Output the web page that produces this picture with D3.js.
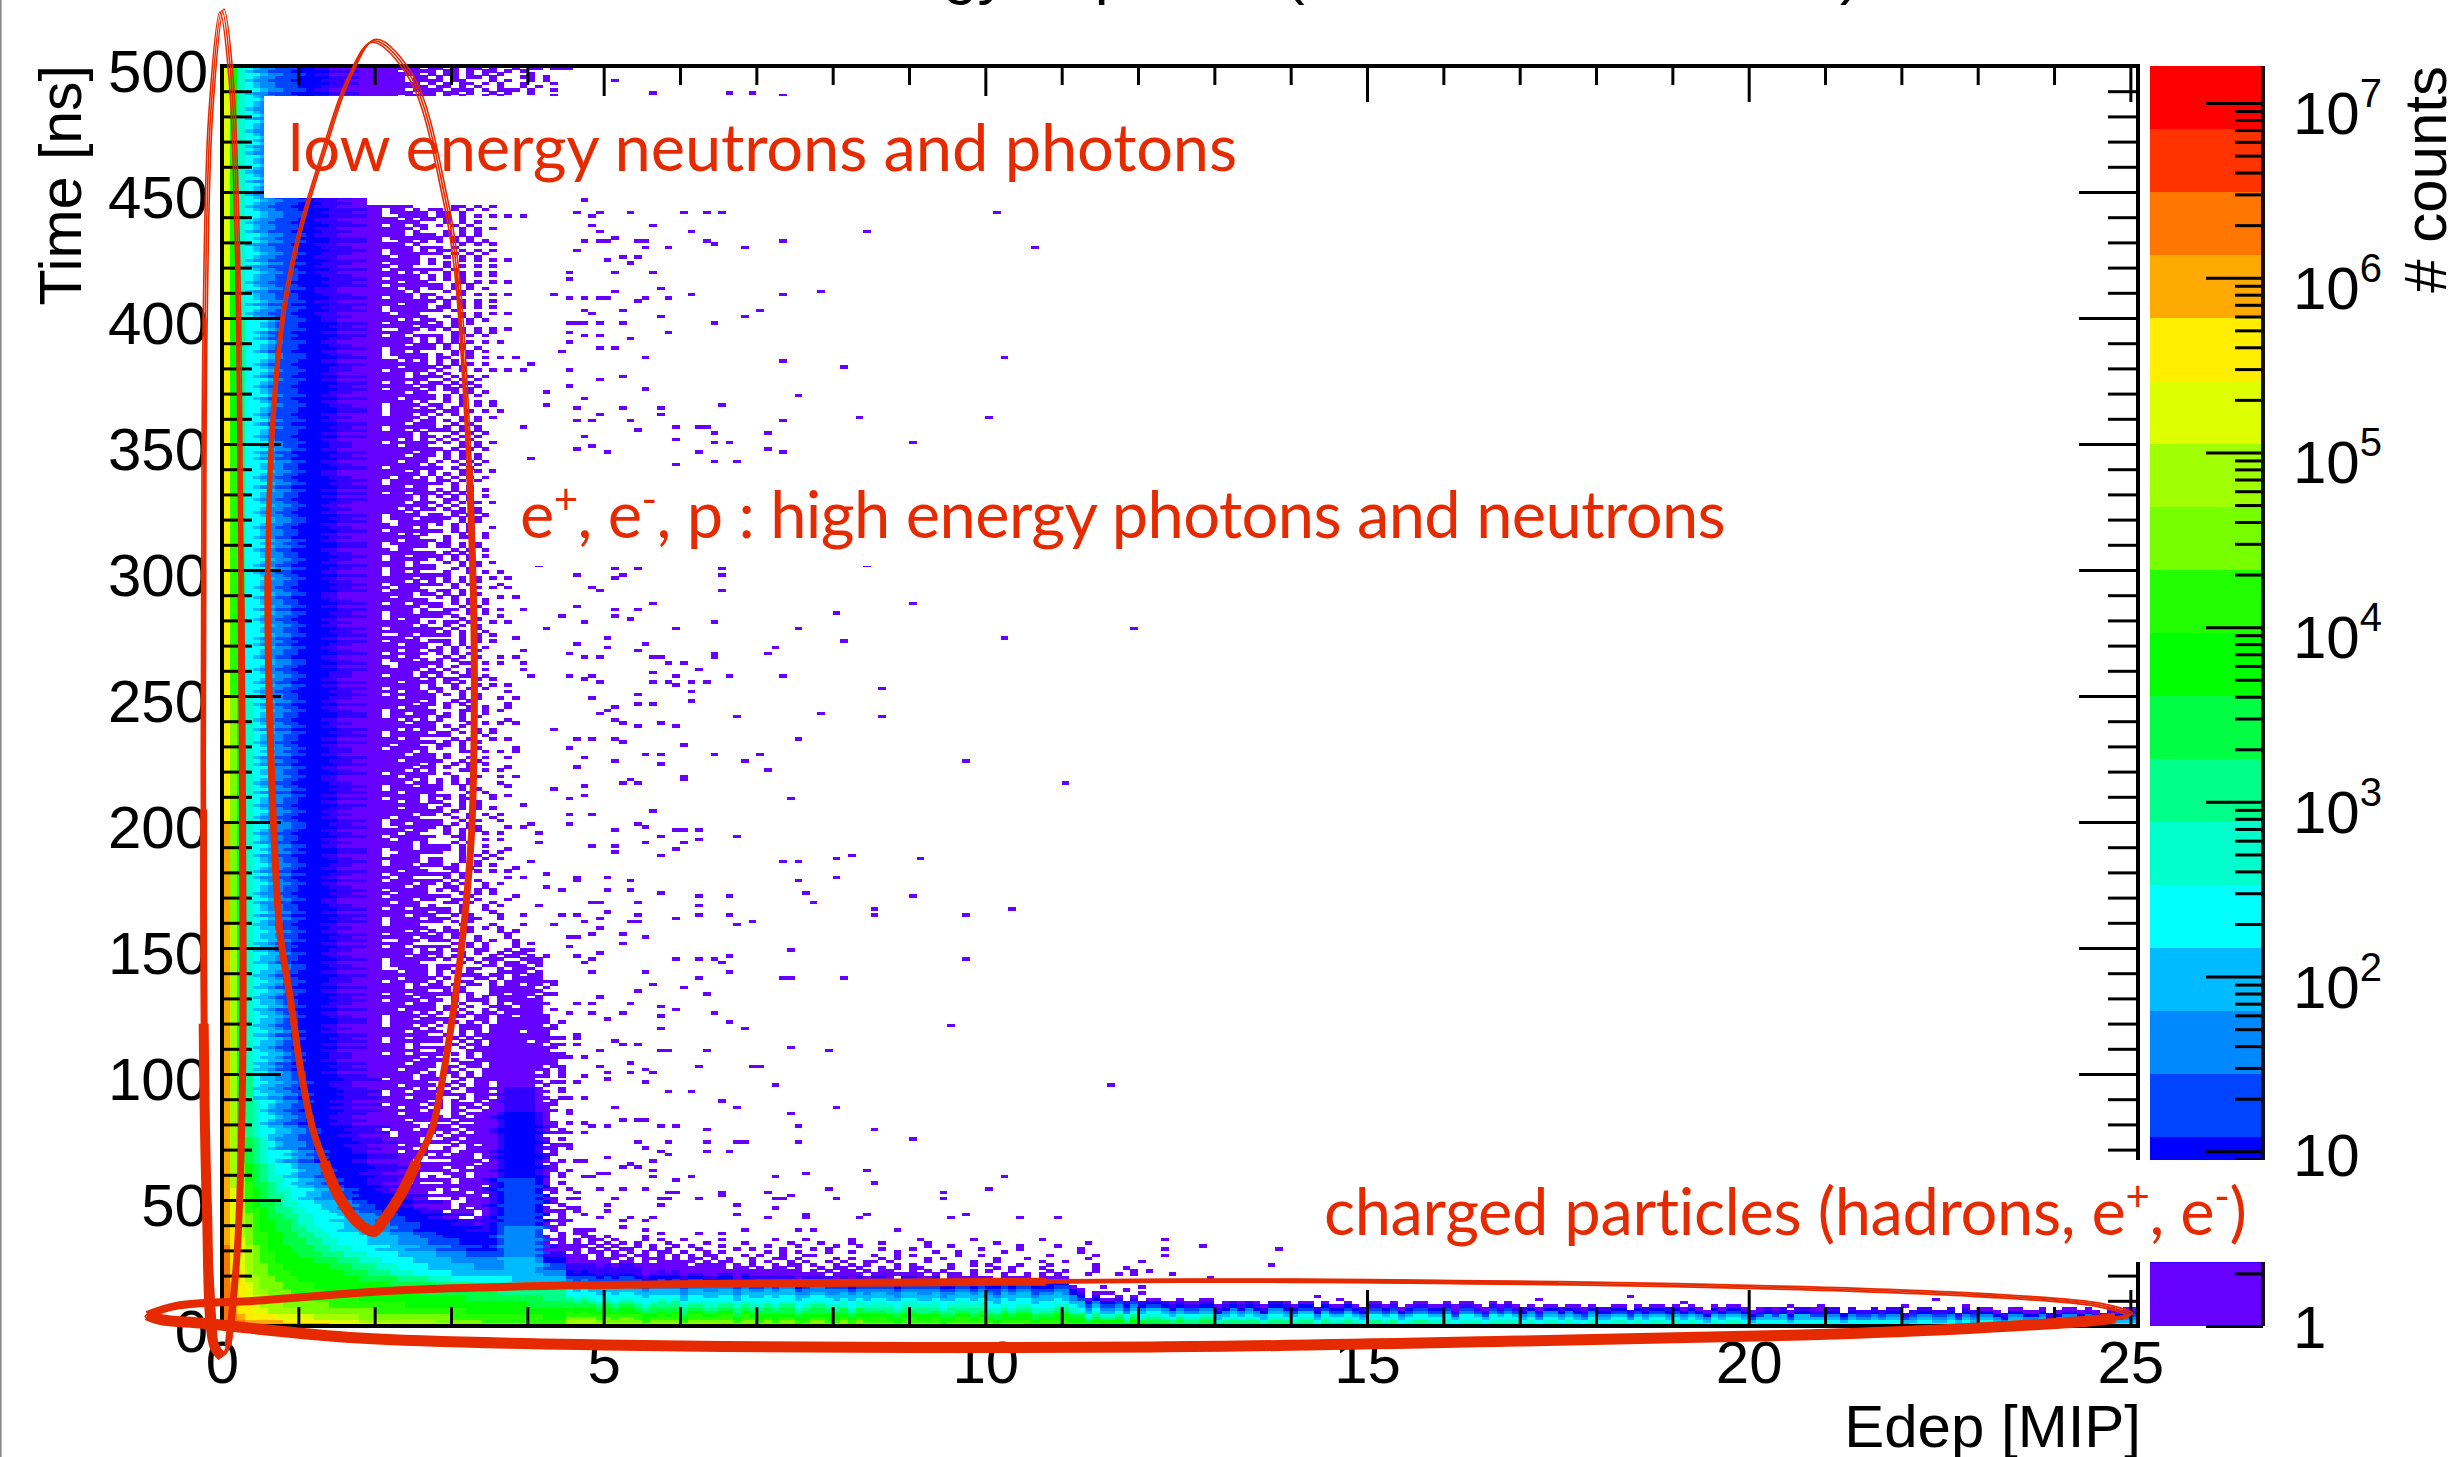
<!DOCTYPE html>
<html><head><meta charset="utf-8">
<script src="https://cdn.jsdelivr.net/npm/d3@7"></script>
<style>html,body{margin:0;padding:0;background:#fff;overflow:hidden}text{font-family:"Liberation Sans",Arial,sans-serif;fill:#000}.note{font-family:Lato,sans-serif;fill:#e62a00}</style>
</head><body><svg id="c" width="2464" height="1457"></svg>
<script>
// ---------- values ----------
const palette=["#6600ff","#3300ff","#0000ff","#0044ff","#0088ff","#00bbff","#00ffff","#00ffcc","#00ff88","#00ff44","#00ff00","#22ff00","#77ff00","#a0ff00","#ddff00","#ffee00","#ffaa00","#ff7700","#ff3300","#ff0000"];
const xMajor=[0,5,10,15,20,25];
const xMinor=[1,2,3,4,6,7,8,9,11,12,13,14,16,17,18,19,21,22,23,24];
const yMajor=[0,50,100,150,200,250,300,350,400,450,500];
const yMinor=[10,20,30,40,60,70,80,90,110,120,130,140,160,170,180,190,210,220,230,240,260,270,280,290,310,320,330,340,360,370,380,390,410,420,430,440,460,470,480,490];
const countMajor=[1,10,100,1e3,1e4,1e5,1e6,1e7];
const countMinor=[2,3,4,5,6,7,8,9,20,30,40,50,60,70,80,90,200,300,400,500,600,700,800,900,2e3,3e3,4e3,5e3,6e3,7e3,8e3,9e3,2e4,3e4,4e4,5e4,6e4,7e4,8e4,9e4,2e5,3e5,4e5,5e5,6e5,7e5,8e5,9e5,2e6,3e6,4e6,5e6,6e6,7e6,8e6,9e6];
// Time rows (ns) of the low-energy contour table; each level array gives, per row, the bin where that colour level ends
const rowT=[0,1.25,2.5,5,7.5,10,12.5,15,17.5,20,22.5,25,27.5,30,32.5,35,37.5,40,42.5,45,47.5,50,52.5,55,57.5,60,65,70,75,80,90,100,110,130,160,200,250,300,350,400,450];
const edgeL18=[2,1];
const edgeL17=[4,3,2,1,1,1,1,1,1,1,1,1,1,1];
const edgeL16=[14,8,3,2,2,2,2,2,1,1,1,1,1,1,1,1,1,1,1,1,1,1,1,1,1,1,1,1,1,1,1,1,1,1,1];
const edgeL15=[18,14,7,4,4,3,3,3,3,3,2,2,2,2,2,2,2,1,1,1,1,1,1,1,1,1,1,1,1,1,1,1,1,1,1,1,1,1,1];
const edgeL14=[22,18,12,6,5,5,4,4,3,3,3,3,3,3,3,2,2,2,2,2,2,2,2,1,1,1,1,1,1,1,1,1,1,1,1,1,1,1,1,1,1];
const edgeL13=[30,28,18,10,8,7,6,5,5,4,4,4,4,4,3,3,3,3,3,3,3,2,2,2,2,2,2,2,2,2,2,2,2,2,1,1,1,1,1,1,1];
const edgeL12=[40,34,30,20,14,11,9,8,7,6,6,5,5,5,4,4,4,4,4,3,3,3,3,3,3,3,2,2,2,2,2,2,2,2,2,2,1,1,1,1,1];
const edgeL11=[45,45,42,32,24,18,14,12,10,9,8,7,7,6,6,6,5,5,5,5,4,4,4,4,3,3,3,3,2,2,2,2,2,2,2,2,2,2,1,1,1];
const edgeL10=[45,45,45,45,40,32,26,22,18,16,14,12,10,9,8,8,7,7,6,6,5,5,5,4,4,4,3,3,3,2,2,2,2,2,2,2,2,2,2,2,2];
const edgeL9=[45,45,45,45,45,42,36,28,23,19,17,15,13,12,11,10,9,9,8,7,7,6,6,6,5,5,4,4,3,3,3,3,3,3,3,3,3,2,2,2,2];
const edgeL8=[45,45,45,45,45,45,45,33,27,22,20,18,16,14,13,12,11,10,10,9,8,8,7,7,6,6,5,5,4,4,4,3,3,3,3,3,3,3,3,2,2];
const edgeL7=[45,45,45,45,45,45,45,38,30,25,23,21,19,17,15,14,13,12,12,11,10,9,9,8,8,7,6,6,5,5,4,4,4,4,4,4,3,3,3,3,3];
const edgeL6=[45,45,45,45,45,45,45,44,38,30,27,25,23,21,19,18,16,15,15,14,12,11,11,10,9,8.5,8,7,6,6,5,5,5,5,5,5,5,5,5,4,4];
const edgeL5=[45,45,45,45,45,45,45,45,45,36,33,30,28,25,23,22,20,18,17,16,15,13,13,12,11,10,9,8,8,7,7,7,7,7,6,6,6,6,6,5,5];
const edgeL4=[45,45,45,45,45,45,45,45,45,45,40,36,32,29,27,25,23,21,20,18,17,16,15,14,13,13,11,11,10,9,9,8,8,8,8,8,8,8,7,7,7];
const edgeL3=[45,45,45,45,45,45,45,45,45,45,45,42,36,33,31,28,26,25,23,21,19,18,17,16,15,14,13,13,12,11,11,10,10,10,10,10,10,10,10,10,10];
const edgeL2=[45,45,45,45,45,45,45,45,45,45,45,45,42,41,38,36,33,30,28,26,24,22,21,20,19,19,18,17,16,15,15,14,14,14,14,14,14,14,14,13,13];
const edgeL1=[45,45,45,45,45,45,45,45,45,45,45,45,45,42,41,39,37,33,31,29,27,25,24,23,23,23,21,21,20,19,19,17,17,17,17,17,17,17,17,17,16];
const edgeL0=[45,45,45,45,45,45,45,45,45,45,45,45,45,45,42,42,34,32,30,28,27,26,25,24,23,23,22,22,21,20,20,19,19,19,19,19,19,19,19,19,19];
// Ridge around 3.8 MIP: time steps (ns) and the colour level in each step
const ridgeT=[17.5,27.5,40,58,85,95,103];
const ridgeLevel=[5,4,3,2,1,0];
// Purple hits on top of the ridge, one string per row from 103 ns upward, starting at 3.4 MIP
const ridgeRows=`
.#######.# ..###.#### #.########. .########. ..#######. .####.###. #.#######. ..######.# .#####.##. ..########
#.######.. .####.###. ..#######. .###.###.# ..####.##. #.#####.#. ..##.####. .#.#####.. ..####.#.# .###.###..
..#.#####. #.###.##.. ..####.#.. .##.###.#. ...#####.. ..#.###.#. .#.##.##.. ...####.#. ..#.##.#.. .##.#.##..
...###.#.. ..#.##.... .#.#.#.#.. ...##.#... ..#..##... ....#.#.#. ..#.#..... ...#.##...
`.trim().split(/\s+/);
// Shelf above 4.5 MIP: columns (MIP) and the top (ns) of each colour level per column
const bandX=[4.5,5,5.5,6,6.5,7,7.5,8,8.5,9,9.5,10,10.5,11,11.1,11.2,11.3,11.5,12,12.5,13,14,15,16,17,18,19,20,21,22,23,24,24.5];
const topL0=[27,25,24,23,22,21.5,21,21,20.5,20.5,20,20,20,19.5,17,14,13,12,11,10.5,10,9.5,9,9,8.5,8,8,7.5,7,7,6.5,6.5,6.5];
const topL1=[25,24,22,21,20.5,20,20,19,19,19,18.5,18.5,18.5,18,16,13,12,11,10,9.5,9,8.5,8,8,7.5,7.5,7,7,6.5,6.5,6,6,6];
const topL2=[22,21,20,19.5,19,18.5,18.5,18,18,18,17.5,17.5,17.5,17,15,12,11,10,9,8.5,8,8,7.5,7,7,6.5,6.5,6,6,5.5,5.5,5,5];
const topL3=[20,19,18.5,18,17.5,17,17,16.5,16.5,16.5,16,16,16,15.5,13.5,11,10,9,8,7.5,7,7,6.5,6.5,6,6,5.5,5,5,5,4.5,4.5,4.5];
const topL4=[18.5,17.5,17,16.5,16,15.5,15.5,15,15,15,14.5,14.5,14.5,14,12.5,10,9,8,7.5,7,6.5,6,6,5.5,5.5,5,5,4.5,4.5,4,4,4,3.5];
const topL5=[16.5,15.5,15,14.5,14,14,13.5,13.5,13,13,13,13,13,12.5,11,9,8,7,6.5,6,6,5.5,5,5,4.5,4.5,4,4,3.5,3.5,3,3,2.5];
const topL6=[14,13,12.5,12,12,11.5,11.5,11,11,11,10.5,10.5,10.5,10,9,7.5,6.5,6,5.5,5,4.5,4.5,4,4,3.5,3.5,3,2.5,2.5,2,2,1.5,1.3];
const topL7=[12,11,10.5,10,10,9.5,9.5,9,9,9,9,8.5,8.5,8.5,7.5,6,5.5,5,4.5,4,3.5,3,2.5,2.5,2,2,1.5,1.3];
const topL8=[10.5,9.5,9,8.5,8.5,8,8,7.5,7.5,7.5,7.5,7,7,7,6,5,4.5,4,3.5,3,2.5,2,1.5,1.3,1.3];
const topL9=[9,8,7.5,7,7,6.5,6.5,6.5,6,6,6,6,6,5.5,5,4,3.5,3,2.5,2,1.3,1.3];
const topL10=[7.5,6.5,6,5.5,5.5,5,5,5,5,5,4.5,4.5,4.5,4.5,4,3,2.5,2.5,1.3];
const topL11=[6,5,4.5,4,4,3.5,3.5,3.5,3,3,3,2.5,2.5,2.5,2,1.3,1.3];
const topL12=[3.8,3,2.5,2.5,2.5,2,2,2,1.3,1.3,1.3,1.3];
const topL13=[2.5,1.3,1.3,1.3];
// Rough row-by-row roughness of the contour edges and bin-by-bin roughness of the shelf top
const edgeRough="0+0-+00-0+-0+0-0++-00+-0-+00+0-0+-+00-+0-00+0-+-0+00-+0+-00-0++0-0+0-00+-+0-0+00+-0-+0+0-00+-+0-0";
const edgeRoughBlue="+0-+-0+0+-+-00+-+0-+0-0+-+0+-0-+0+-+0--+0+0-+-0+-0+0-++-0-+0-+0+-0-0+-+-+0+0--+0-+0+-00-+-+0+-0-+";
const shelfRough="0101201001210102001100201101002100110201001200110210010120100211001020110201001201100210101200110020110120010210011020012010110200101201100201001";
// Dense purple hits, one string per time row from 35 ns upward, starting at 1.8 MIP
const speckleRows=`
#######.####.#####.#.###.#..## ########.###..######.##..#.## ######.#####.###.#####.#..### #########.####.###.###.#...# #######.###.####.#####.##.#. ####.#####.###.####.#######.. ########.#####..#######.#..# ######.###.#####.#.#####.#.#
########.####.#####..####.#. ####.#######.#.#####.####..## #########.###.####.####.#..# ######.#####..######.###.#.. ########.##.#######.####.##. ######.####.#####.######.#.. #########.###.###.#####.#..# ######.####.#####.###.###.#.
.#######.###.#####.####.###. ########.##.######.###.#.#.. ######.####.###.#######.#### ########.###.#####.####.#..# #####.###.###.####.#.###.#.. #########.##.####.#####.##.# ######.####.##.#####.###.#.. #######.##.#####.#.####.#.#.
#########.####.#.######.#.## ######.###.####.####.###.... ########.##.###.######.#.#.. #####.#####.##.#####.###.#.# ########.##..####.#.#####.#. ######.####.#.#####.##.###.. #######.###.###.####.###..#. #########.##.#####.#####.#..
#####.#####.#.#####.##.#.... ########.##.####.#.######.#. ######.###.##.####.####.#.#. #######.##.#.#####.###..##.. #########.#..####.##.###.#.# ######.###.##.#####.#.##.#.. ########.##.#.##.####.###.#. #####.####..#.#####.###.#..#
########.#.##..####.##.##.#. ######.###.#.#.##.####.#.#.. #######.##.###.###.###.##.... #########.#.#..#.#####.#.#.. ######.###.#.##.###.###.##.# #######.#.##.###.####.#.#... #####.####.#..###.#.###.#.#. ########.##.#.####..####..#.
######.####.#.#.##.###.#.#.. #########.#..##.###.##.##.#. ######.##.###..#.####.###... #######.###.#.###.#.###.#..# ########.#.##.#.##.####.#.#. #####.###.#.#..###.##.##.#.. #########.#.##.##.####..#..# ######.####...###.#.###.#.#.
#######.##.##.#..#####.##.#. ########.#.#.###..##.####.#.. #####.####.#.#.###.#.##.##.. #########.##..####.####.#... ######.##.###.#.#####.#.#.#. #######.#.#.##.##.###..##.#. ########.###...#.#.#####.... #####.####.#.#.####.#.##.#.#
#########.#.#.###.#.##.#...# ######.##.##..#.#.####..#... ########.#.###.##.##.#.#.... #####.###.#.#..###.##.#.#... #########.##.#.#.#.###...#.. ######.####.#...##.#.##.#... #######.#.##.##..#.#.#...... ########.##.#.#.##..##.#...#
#####.####..#.#..#.#.#.#.... #########.#.##.#...##.#..... ######.###.#..#.#.##.#....#. #######.##.#.##...#.#.#..... ########.#.#..#.#.#..##..... #####.####.##.#..#...#...#.. #########.#.#...##.#.#...... ######.##.###.#...#.#..#....
#######.#.##.#.##...#.....#. ########.###..#.#...#.#...... #####.###.#.#...##.#...#.... #########.#..###.#..#....... ######.###.#.#.#...#....#... #######.##.##..#.#.#........ ########.#.###...#...#...... #####.####..#.#.#..#..#.....
#########.#.#..#.##.....#... ######.##.#.##...#.#......... #######.###..#.#..#..#...... ########.#.#.#..##.......... #####.###.##..#.#...#......#. #########.#.#.#...#.#....... ######.###...#.#..#......... #######.#.##.#..#...#.......
########.##..#.##.....#..... ######.#.###.#...#.#........ #########.#..#.#.#.......... #####.####.#...#...#...#.... ########.#.##.#.#........... #######.##.#..##..#......... ######.###.#.#...#..#....... #########..##.#...#.........
#####.#####.#.#..#.......... ########.#.#..#.#....#...... ######.###.##.#..#.......... #######.#.#..##.#...#....... #########.##..#.....#....... #####.####.#.#.#............ ########.#.#.#..#.#......... ######.##.##...#.......#....
#######.###.#..#.#.......... #########.#.#.#..#.......... ######.##.#.#.....#.#....... ########.#.##.#.#..........# #####.###.#..#.#.#.......... #########.##.#.....#........ ######.##.#.#..#.#.......... #######.###..#.#......#.....
########.#.#..#..#.#........ #####.####.#.#.#............ #########.#..#..#.#......... ######.###.#.#.....#........ #######.##..##.#..#......... ########.#.#.#........#..... #####.####.#..#.#........... #########.#.#..##...........
######.##.#.#..#.#....#..... #######.###..#.#.#.......... ########.#.##...#.#......... #####.###.#.#.#.......#..... #########.#..#.#..#......... ######.####.#..#............ #######.#.#.#..#.#.#........ ########.##.#.#.............
#####.###.#..#.#.#.......... #########.#.#.#.....#....... ######.##.##..#.#............ #######.#.#.##..#.......... ########.###.#...#.#......... #####.####..#.#............ #########.#.#..#.#.........# ######.##.#..#.....#........
#######.###.#.#...#......... ########.#.#.#.#............ #####.###.#..#..#.#......... #########.##.#.............. ######.#.#.##.#.#........... #######.##.#..#....#........ ########.#.#.#.#............ #####.####.#..#.#...........
#########.#.#..#.#..#....... ######.###.#.#.............. #######.#.##.#.#.#.......... ########.#..#.#....#......#. #####.###.##.#.............. #########.#.#.#.#........... ######.##.#.#..#.#.......... #######.###..#....#.........
########.##.#.#.#........... #####.#.##.#..#.#.......#... #########.#.#.#............. ######.###..#.#.#.#......... #######.#.#.#..#.....#...... ########.##.#.#............. #####.###.#.#.#..#.......... #########..##.#.#...........
######.###.#..#.#..#........ #######.#.#.#.#.....#....... ########.##..#.#............ #####.####.#.#..#.#......... #########.#.#.#............. ######.##.#.#..#.....#...... #######.###.#.#.#........... ########.#.#..#.#.#.........
#####.###.#.#.#............. #########.#.##..#.#......... ######.#.###.#.....#........ #######.##.#.#.#............ ########.#.#..#.#....#...... #####.####.#.#.............. #########.##.#.#..#......... ######.#.#.#.#..............
#######.###.#.#..#.#........ ########.#.#.#.#............ #####.##.##.#..#.....#...... #########.#.#.#.#........... ######.###..#.#............. #######.#.##.#.#.#.......... ########.#.#.#....#......... #####.####.#.#.#............
#########.#.#.#..#.......... ######.##.##.#.#..#........# #######.#.#.#.#............. ########.###.#..#.#......... #####.#.##.#.#.............. #########.#.#.#.....#....... ######.###.#..#.#........... #######.#.##.#.#.#..#........
########.#.#..#.#........... #####.####.#.#.#.#......... #########.#.#.#............. ######.##.#.#.....#.#....... #######.###.#.#.#........... ########.#.#.#.............. #####.###.#..#.#.#.......... #########.##.#.#...#........
######.#.##.#.#............. #######.###.#.#.#.#......... ########.#.#.#.............. #####.##.##..#.#.#.......... #########.#.#..#.#......... ######.###.#.#.......#...... #######.#.#.#.#.#........... ########.##.#.#.............
#####.###.#.#.#.#..#........ #########.#.#.#............. ######.##.#.#.#.#........... #######.###..#.#.....#...... ########.#.#.#.#............ #####.####.#.#.............. #########.#.##.#.#.......... ######.#.#.#..#.............
#######.##.#.#.#.#.......... ########.#.#.#..#........... #####.###.#.#.#.#.......... #########.#.#......#........ ######.##.##.#.#............ #######.#.#.#.#.#........... ########.###.#.............. #####.#.#.#.#.#.#...........
#########.#.#.#............. ######.###.#.#.#.#....#..... #######.#.##.#.............. ########.#.#.#.#.#.......... #####.###.#.#............... #########.#.#.#.#........... ######.##.#.#....#.#........ #######.###.#.#.............
########.#.#.#.#............ #####.##.##.#.#.#........... #########.#.#.#............. ######.#.#.#.#.#.....#...... #######.###.#.#.#........... ########.#.#.#.............. #####.###.#.#.#.#........... #########.#.#.#......#......
######.##.#.#.#.#........... #######.#.#.#.#............. ########.##.#.#.#.#......... #####.###.#.#............... #########.#.#.#.#........... ######.#.##.#.#............. #######.#.#.#.#.#........... ########.##.#.#.............
#####.#.##.#.#.#.#.......... #########.#.#.#.....#....... ######.###.#.#.............. #######.#.#.#.#.#........... ########.#.#.#.#............ #####.###.#.#.#............. #########.##.#.#.#.......... ######.#.#.#.#..............
#######.##.#.#.#......#..... ########.#.#.#.#.#.......... #####.###.#.#.#............. #########.#.#.#.#........... ######.##.#.#.#.......#..... #######.#.##.#.............. ########.#.#.#.#.#.......... #####.#.#.#.#.#.............
#########.#.#.#............. ######.###.#.#.#.#.......... #######.#.#.#............... ########.##.#.#.#.#......... #####.###.#.#.#............. #########.#.#.#.#.....#..... ######.#.#.#.#.............. #######.##.#.#.#.#..........
########.#.#.#.#............ #####.##.#.#.#.#.........#.. #########.#.#.#.#........... ######.###.#.#.............. #######.#.#.#.#.#.#......... ########.#.#.#.............. #####.###.#.#.#.#........... #########.##.#.#............
######.#.#.#.#.#.#.......... #######.##.#.#.............. ########.#.#.#.#.#.......... #####.#.##.#.#.#............ #########.#.#.#............. ######.###.#.#.#.#.......... #######.#.#.#.#............. ########.#.#.#.#.#..........
#####.###.#.#.#............. #########.#.#.#.#.#......... ######.#.#.#.#.............. #######.##.#.#.#.#.....#.... ########.#.#.#.............. #####.##.#.#.#.#.#.......... #########.#.#.#............. ######.###.#.#.#.#..........
#######.#.#.#.#............. ########.##.#.#.#........... #####.#.#.#.#.#.#.......... #########.#.#.#............. ######.##.#.#.#.#........... #######.#.#.#.#............. ########.#.#.#.#.#.......... #####.###.#.#.#.............
#########.#.#.#.#........... ######.#.#.#.#.#.#......... #######.##.#.#.............. ########.#.#.#.#............ #####.#.#.#.#.#.#........... #########.#.#.#............. ######.###.#.#.#.#.......... #######.#.#.#.#.............
########.#.#.#.#............ #####.##.#.#.#.#.#.......... #########.#.#.#............. ######.#.#.#.#.#............ #######.###.#.#.#.#......... ########.#.#.#.............. #####.#.#.#.#.#.#........... #########.##.#.#............
`.trim().split(/\s+/);
// Top rows just under the 500 ns edge, from 488 ns upward
const speckleTop=`
#####.####.#.#..#.#......# #######.##.##.#..#.#..#.... ######.####.###.#.#.#....#.. #########.##.#.#..#..#..... ########.#.#.##.#.#..#..... ######.####.##...#.#..#.#.. .#####.##.#.#.##.#....#.#.. ########.#.##.#.#.#...#.... #####.####.##.#.##.#.#..... ########.##.#.##.#..#.#...#.
`.trim().split(/\s+/);
// Hits above the shelf, one string per row from 20 ns upward, starting at 4.2 MIP
const shelfRows=`
##########.#########.########.#.#####.#.##.#.###.#.#.##.#...#..#.#.#...#.....#....#
.###########.#.#######.###.##.#.##.#.#.##.#.##..#.#.#...#.#..#....#.#...#....#.#...
###.#######.#####.##.###.##.#.##.#..#.##.#..#.#.##...#.....#.#...#......#...#......
.##########.###.#.#.####.#.#..#.##.#..#.#.#...#.#....#..#.#...#...#.....#..........
###.#####.##.#.#####.#.##..#.#..#.#..#.#..##.#....#.....#..#.....#..#.........#....
##.###.###.#.###.#.##.#.#..#..##.#....#.#...#.#...#.#......#...#.......#...........
.#####.#.##.##.#.#.#.##...#.#..#..##.......#..#.#.....#..#........#.....#........#.
###.#.##.#.#.#.##.#..#.#.....#.#.#...#..#.....#....#..#.....#.........#............
##.##.#.#.##..#.#...#....#.#...#...#.#......#...#........#....#.......#..........#.
.#.###.#.#..#.#..#.#...#.....#...#....#..#........#..#........#....#................
#.#.#.#.#.#.#...#....#....#.....#...#...#...#.....#........#...........#...........
.##.#.##.#...#.#..#....#......#...#.....#........#......#........#...............#.
`.trim().split(/\s+/);
// Isolated single-count hits: [Edep MIP, time ns]
const isolatedHits=[[4.73,446.4],[4.62,441.5],[4.83,440.5],[4.93,441.5],[5.31,442.3],[6.02,442.3],[6.32,441.5],[6.52,441.5],[10.19,442.3],[4.83,436.5],[5.61,436.5],[4.93,434.8],[6.11,434],[8.41,434.8],[4.73,431.2],[4.96,430],[5.06,430],[5.13,431.6],[5.47,431.2],[5.57,431.2],[5.81,428.4],[6.32,430.8],[6.41,429.9],[6.81,428.4],[7.32,430.8],[10.69,428.4],[4.63,426.7],[5.52,427.7],[5.22,424.5],[5.41,424.5],[5.02,422.8],[5.31,421.7],[4.53,418.5],[5.13,417.7],[5.61,417.7],[4.53,415.4],[5.72,411.8],[5.13,410.6],[6.11,409.5],[7.32,409.5],[7.8,410.6],[4.53,407.8],[4.73,407.8],[4.93,408.6],[5.02,407.8],[5.52,408.6],[5.41,406.6],[5.81,407.8],[4.73,402.9],[4.83,401.5],[5.22,402.9],[7.02,402.9],[5.72,400.7],[6.81,400.7],[4.53,398.7],[4.73,398.3],[4.63,397.5],[4.93,397.5],[5.22,398.7],[6.41,398.7],[5.81,394],[4.53,394],[4.73,392.6],[4.93,392.6],[5.31,391.5],[4.53,390],[5.13,388.6],[4.93,387.6],[5.52,384.8],[10.29,384.8],[7.32,382.7],[8.11,380.8],[4.53,379.6],[5.22,376.9],[4.93,375.8],[4.59,373.7],[5.52,371.7],[7.52,369.7],[4.73,367.7],[6.52,365.5],[4.63,364.6],[5.22,363.8],[5.72,363.8],[4.93,361.5],[5.72,361.5],[4.83,359.8],[5.31,359.8],[4.63,358.9],[7.32,359.8],[8.3,360.6],[10.08,360.6],[5.41,355.6],[5.92,357.4],[6.21,356.6],[6.31,356.6],[6.41,354.7],[7.11,354.7],[4.73,352.6],[5.92,351.6],[6.41,350.7],[6.62,350.7],[9,350.7],[4.83,349.9],[4.63,347.5],[5.02,346.7],[6.21,346.7],[7.11,347.5],[7.32,346.7],[6.41,343.5],[6.71,342.7],[5.92,342.3],
[8.41,301.3],[5.13,300.7],[5.41,300.7],[6.52,300],[5.22,298.7],[6.52,297.6],[4.63,297.6],[5.13,296.7],[4.83,293.5],[4.93,292],[6.52,292],[5.61,286.8],[9,286.8],[4.63,285.6],[5.13,284.7],[5.41,284.7],[8.02,282.8],[4.43,282],[5.13,282],[5.31,280.6],[4.73,278.8],[6.41,278.8],[5.92,276.5],[7.52,276.5],[11.9,276.5],[5.02,273.7],[10.29,273.7],[8.11,271.7],[4.63,270.8],[5.52,270.8],[5.02,269.7],[7.22,269.7],[5.41,267.6],[4.53,266.5],[5.61,265.7],[5.71,265.7],[6.41,266.5],[7.11,266.5],[6.41,265],[4.73,265],[4.93,265],[5.81,262.6],[6.02,262.6],[6.21,260.7],[5.61,259.8],[5.92,258.6],[6.62,258.6],[4.83,258.6],[4.53,257.6],[7.32,257.6],[4.73,256.6],[4.93,255.8],[5.61,255.8],[5.81,255.8],[6.11,255.8],[6.32,255.8],[5.92,254.6],[8.7,253.7],
[3.83,498.8],[4.13,498.8],[4.33,499],[4.53,498.8],[3.93,495],[4.33,492.7],[4.13,492],[4.03,490.8],[3.8,490],[5.13,494.7],[5.63,488.8],[6.63,488.8],[6.92,488.8],[7.32,488.4],
[5.42,250.9],[6.11,252],[4.83,249.5],[6.11,247.8],[5.42,246.9],[5.61,246.9],[5.13,245.4],[5.02,244.7],[4.93,242.7],[7.8,242.7],[6.71,241.9],[8.7,241.9],[5.13,240.6],[5.22,239.5],[5.42,238.7],[5.72,239.5],[5.92,238],[4.63,233.7],[4.83,233.7],[5.13,232.7],[5.22,231.6],[7.52,232.8],[6.02,230.5],[4.53,229.6],[5.52,226.6],[5.72,226.6],[6.41,226.6],[7.02,226.6],[4.73,225.7],[5.13,223.9],[6.81,223.9],[9.79,224.8],[5.72,222.5],[4.63,221.7],[7.11,220.8],[6.02,218.4],[6.02,216.7],[5.31,216.7],[5.22,215.8],[5.42,215.8],[4.73,214.9],[11,215.8],[4.73,210.9],[4.53,209.6],[7.42,209.6],[5.61,204.6],[4.83,202.9],[4.53,202.9],[5.42,199.7],[4.53,199.7],[5.52,198],[5.13,196.5],[5.92,196.5],[6.02,196.5],[6.21,196.5],[5.72,193.9],[6.71,193.9],[6.21,192.9],[4.83,190.7],[5.13,190.7],[5.52,191.6],[6.02,191.6],[5.92,189.8],[5.13,187.6],[5.72,186.5],[8.21,186.5],[8,185.6],[9.2,185.6],[7.32,184.8],[7.52,183.9],[4.63,178.4],[5.02,177.7],[5.31,176.9],[4.63,176.9],[7.52,176.9],[8,177.7],[5.02,173.6],[5.31,173.6],[4.43,172.7],[5.72,171.6],[6.21,170.8],[6.62,170.8],[7.61,171.6],[9,170.8],[4.83,168.4],[4.93,168.4],[5.42,167.6],[6.21,166.9],[7.7,167.6],[8.51,166],[10.39,166],[5.02,164.5],[6.21,163.7],[8.51,163.7],[4.43,162.8],[4.63,163.7],[5.42,162.8],[6.62,162.8],[9.79,162.8],[4.93,161.7],[4.73,160.5],[5.33,160.5],[5.43,160.5],[5.92,161.3],[6.92,160.5],[6.71,159.6],[4.93,157.5],[4.89,155.7],[5.22,155.7],[4.53,154.7],[4.63,153.8],[5.52,153.8],[5.22,152.2],
[7.42,149.9],[4.93,147.6],[4.63,146.6],[4.83,145.6],[4.73,144.7],[5.92,145.6],[6.21,145.6],[6.41,145.6],[6.62,146.6],[6.52,144.7],[9.71,145.6],[4.83,140],[5.52,140.6],[6.62,140.6],[7.42,138.5],[8.11,138.5],[6.21,137.6],[7.32,137.6],[5.61,135.8],[6.02,134.7],[5.42,132.7],[6.32,131.7],[4.93,130.8],[5.31,128.6],[4.83,128.6],[5.72,126.8],[5.92,125.9],[4.83,124.4],[5.22,124.4],[5.72,123.6],[6.41,124.4],[5.02,121.8],[6.62,120.4],[5.72,117.7],[6.81,117.7],[9.5,118.8],[5.13,113],[5.2,111.5],[5.3,111.5],[5.4,111.5],[4.93,108.9],[5.72,109.6],[5.81,108.9],[6.32,108.9],[7.42,110.6],[7.91,109.6],[5.31,104.8],[6.21,103.7],[6.92,103.7],[7.02,103.7],[4.93,102.7],[5.52,101.7],[5.02,100.5],[5.31,100.5],[5.61,100.5],[5.02,97.5],[5.52,96.6],[7.22,95.8],[11.69,95.8],[5.81,92.6],[6.11,92.6],[6.52,89.9],[5.13,86.7],[6.71,86.7],[8,86.7],[7.42,84.6],[5.22,81.7],[5.42,81.7],[5.52,81.7],[4.83,78.8],[5.02,78.8],[5.72,78.8],[5.92,78.8],[7.52,78.8],[6.32,77.8],[8.6,77.8],[9.1,74.7],[5.42,73.7],[5.81,73.7],[6.32,73.7],[6.71,73.7],[6.81,73.7],[7.52,72.9],[5.52,70.5],[5.72,69.6],[6.32,69.6],[6.62,69],[5.81,67.9],[5.02,66.5],[5.61,65.6],[5.31,64.7],[5.22,63.6],[5.42,62.6],[5.61,61.7],[8.41,61.7],[7.61,60.8],[4.93,60.8],[5.02,60.8],[4.83,59.8],[5.61,59.8],[6.11,58.9],[7.22,58.9],[10.29,59.8],[5.92,57.7],[8.6,56.5],[4.93,54.8],[5.22,54.8],[5.52,54.8],[7.91,54.8],[10.08,54.8],[5.81,53.3],[5.92,53.3],[6.52,53.3],[7.11,52.5],[6.52,51.8],[7.42,51.8],[9.41,53.3],[9.41,50.9],[5.13,50.9],[5.72,50.9],[5.82,50.9],[6.21,50.9],[7.22,50.9],[7.32,50],[8,50],[5.02,48.6],[5.72,47.7],[6.71,47.7],[7.22,46.6],[6.71,44.5],[7.61,44.5],[8.41,44.5],[9.71,44.5],[5.02,45.1],[4.73,44.5],[4.93,43.4],[5.31,43.4],[5.61,43.4],[7.11,43.4],[8.3,43.4],[9.5,43.1],[7.61,42.7],[10.49,42.7],[10.9,42.7],[5.22,41.9],[5.52,41.9],[5.22,39.2],[5.52,38.7],[6.81,38.7],[7.52,38.7],[7.7,38.7],[8.81,38.7],[5.72,36.8],[6.21,36.8],[6.52,36.8],[5.02,35.6],[5.52,35.6],[4.83,34.8],[5.72,34.8],
[12.88,32],[13.88,30.7],[13.77,23.9],[12.98,19.8],[12.87,10.7],[14.38,11.7],[14.66,10.7],[17.25,10.7],[18.45,11.7],[19.15,9.8],[22.43,10.7],[17.74,8.6],[16.16,8.6],[15.88,8.6],[20.56,7.9],[20.95,7.9],[22.8,7.9],[22.05,7.9],[12.19,21.7],[11.78,20.6],[11.5,15.6],[12.07,16.2],[12.07,12.5],[11.69,13],[11.8,14],[11.6,12.5]];
// Hand-drawn rings, [Edep MIP, time ns] along each outline
const ringA=[[0,522],[0.12,495],[0.2,430],[0.24,330],[0.27,200],[0.27,100],[0.2,30],[0.08,-8],[0,-12],[-0.1,-8],[-0.2,50],[-0.24,150],[-0.24,300],[-0.22,400],[-0.15,480]];
const ringALeftThin=[[-0.22,400],[-0.24,300],[-0.24,150],[-0.2,50],[-0.1,-8]];
const ringALeftMid=[[-0.24,300],[-0.24,150],[-0.2,50],[-0.1,-8]];
const ringALeftWide=[[-0.24,205],[-0.24,150],[-0.2,50],[-0.1,-8]];
const ringALeft=[[-0.24,120],[-0.2,50],[-0.1,-8],[0,-12]];
const ringARightThin=[[0.2,430],[0.24,330],[0.27,200],[0.27,100],[0.2,30],[0.08,-8]];
const ringARight=[[0.25,290],[0.27,200],[0.27,100],[0.2,30],[0.08,-8]];
const ringB=[[1.99,510],[2.49,495],[2.92,448],[3.07,420],[3.24,341],[3.3,280],[3.3,228],[3.27,196],[3.18,162],[3.05,129],[2.9,100],[2.75,78],[2.55,65],[2.32,51],[2.12,42],[1.99,37.5],[1.78,41],[1.54,51],[1.34,65],[1.19,78],[1.04,100],[0.9,129],[0.76,156],[0.68,196],[0.61,261],[0.6,298],[0.65,351],[0.8,401],[1,432],[1.31,464],[1.66,495]];
const ringBRight=[[3.24,341],[3.3,280],[3.3,228],[3.27,196],[3.18,162],[3.05,129],[2.9,100],[2.75,78],[2.55,65],[2.32,51],[2.12,42],[1.99,37.5]];
const ringBRightThin=[[3.07,420],[3.24,341],[3.3,280],[3.3,228]];
const ringBLeft=[[1.99,37.5],[1.78,41],[1.54,51],[1.34,65],[1.19,78],[1.04,100],[0.9,129],[0.76,156],[0.68,196],[0.61,261],[0.6,298]];
const ringBLeftThin=[[0.76,156],[0.68,196],[0.61,261],[0.6,298],[0.65,351],[0.8,401]];
const ringBBase=[[1.34,65],[1.54,51],[1.78,41],[1.99,37.5],[2.12,42],[2.32,51],[2.55,65]];
const ringC=[[-0.98,4.4],[-0.6,8],[0.43,10],[2.4,14.3],[5,16.3],[10,17.5],[12.8,18],[15,17.8],[17.5,17],[20.7,15],[23,12.3],[24.6,8.3],[25,4.4],[24.6,2.4],[23,-0.8],[20.7,-3.6],[17,-6],[12.2,-8.3],[5,-7.5],[1.8,-4.8],[-0.23,1],[-0.8,2.5]];
const ringCLower=[[24.8,3.2],[24.6,2.4],[23,-0.8],[20.7,-3.6],[17,-6],[12.2,-8.3],[5,-7.5],[1.8,-4.8],[-0.23,1],[-0.8,2.5],[-0.98,4.4]];
const ringCUpper=[[-0.98,4.4],[-0.6,8],[0.43,10],[2.4,14.3],[5,16.3],[10,17.5],[10.8,17.6]];
const ringCFray=[[10,17.5],[12.8,18],[15,17.8],[17.5,17]];
const strandShift=[[0,0],[2,-1.5],[-2,1.5]];

// ---------- drawing ----------
const svg=d3.select("#c"),BINX=0.1,BINT=1.25,L=222,R=2138,T=66,B=1326;
const x=d3.scaleLinear().domain([0,25.1]).range([L,R]);
const y=d3.scaleLinear().domain([0,500]).range([B,T]);
const edgeTable=[edgeL0,edgeL1,edgeL2,edgeL3,edgeL4,edgeL5,edgeL6,edgeL7,edgeL8,edgeL9,edgeL10,edgeL11,edgeL12,edgeL13,edgeL14,edgeL15,edgeL16,edgeL17,edgeL18];
const topTable=[topL0,topL1,topL2,topL3,topL4,topL5,topL6,topL7,topL8,topL9,topL10,topL11,topL12,topL13];
const rowIndex=d3.bisector(d=>d).right, rough={"+":1,"-":-1,"0":0};
const pick=(s,r)=>rough[s[r%s.length]];
function lowLevel(b,r){const t=r*BINT,i=rowIndex(rowT,t+1e-6)-1;
  for(let l=18;l>=0;l--){let e=edgeTable[l][i]||0;
    if(t>=30&&l<=6&&e>2&&l>0){e+=pick(l<=2?edgeRoughBlue:edgeRough,r)*(l==1?2:1);}
    if(b<e)return l;}
  return -1;}
function ridge(b,r,base){const t=r*BINT,i=rowIndex(ridgeT,t+1e-6)-1;
  if(i<0||i>=ridgeLevel.length)return base;
  const j=pick(edgeRough,r),k=pick(edgeRoughBlue,r),lo=37-(j>0?1:0),hi=40+(k>0&&t<85?1:0);
  let l=-1;
  if(b>=lo&&b<=hi)l=ridgeLevel[i];
  else if(b>=lo-1&&b<=hi+1)l=ridgeLevel[i]-1;
  else if(b>=lo-2&&b<=hi+1)l=ridgeLevel[i]-2;
  return l<0?base:Math.max(base,l);}
function shelfLevel(b,r){const s=rowIndex(bandX,b*BINX+1e-6)-1,t=(r+0.5)*BINT+(+shelfRough[(b-45)%shelfRough.length]-0.5)*BINT*0.8;
  for(let l=13;l>=0;l--){if(t<(topTable[l][s]||0))return l;}return -1;}
const grid=d3.range(400).map(r=>d3.range(251).map(b=>{
  if(b<45)return ridge(b,r,lowLevel(b,r));
  return r<30?shelfLevel(b,r):-1;}));
const hit=(r,b)=>{if(r>=0&&r<400&&b>=0&&b<251&&grid[r][b]<0)grid[r][b]=0;};
// each typed row carries its own small sideways offset, so the columns do not line up
speckleRows.forEach((s,k)=>{const r=28+k,near=pick(edgeRough,r)+pick(edgeRoughBlue,r),far=pick(edgeRough,r+37)+pick(edgeRoughBlue,r+11)+pick(edgeRough,r+61);
  [...s].forEach((c,j)=>{if(c=="#")hit(r,18+j+(j<3?0:j<10?near:far));});});
speckleTop.forEach((s,k)=>{[...s].forEach((c,j)=>{if(c=="#")hit(390+k,18+j);});});
ridgeRows.forEach((s,k)=>{[...s].forEach((c,j)=>{if(c=="#")hit(82+k,34+j);});});
shelfRows.forEach((s,k)=>{[...s].forEach((c,j)=>{if(c=="#")hit(16+k,42+j);});});
isolatedHits.forEach(([m,t])=>hit(Math.floor(t/BINT),Math.floor(m/BINX)));
const runs=[];grid.forEach((row,r)=>{let b=0;while(b<251){const l=row[b];let e=b+1;while(e<251&&row[e]==l)e++;if(l>=0)runs.push({r,b,e,l});b=e;}});
svg.append("g").attr("shape-rendering","crispEdges").selectAll("rect").data(runs).join("rect")
 .attr("x",d=>x(d.b*BINX)).attr("width",d=>x(d.e*BINX)-x(d.b*BINX))
 .attr("y",d=>y((d.r+1)*BINT)).attr("height",d=>y(d.r*BINT)-y((d.r+1)*BINT)+0.4)
 .attr("fill",d=>palette[d.l]);

function axisStyle(g,w){g.select(".domain").remove();g.selectAll("line").attr("stroke","#000").attr("stroke-width",w);g.selectAll("text").style("font-size","60px");}
const none=()=>"";
svg.append("g").attr("transform",`translate(0,${B})`).call(d3.axisBottom(x).tickValues(xMinor).tickSize(-19).tickFormat(none)).call(axisStyle,3);
svg.append("g").attr("transform",`translate(0,${B})`).call(d3.axisBottom(x).tickValues(xMajor).tickSize(-36).tickPadding(57).tickFormat(d3.format("d"))).call(axisStyle,3).selectAll("text").attr("y",57).attr("dy",0);
svg.append("g").attr("transform",`translate(0,${T})`).call(d3.axisTop(x).tickValues(xMinor).tickSize(-19).tickFormat(none)).call(axisStyle,3);
svg.append("g").attr("transform",`translate(0,${T})`).call(d3.axisTop(x).tickValues(xMajor).tickSize(-36).tickFormat(none)).call(axisStyle,3);
svg.append("g").attr("transform",`translate(${L},0)`).call(d3.axisLeft(y).tickValues(yMinor).tickSize(-30).tickFormat(none)).call(axisStyle,3);
svg.append("g").attr("transform",`translate(${L},0)`).call(d3.axisLeft(y).tickValues(yMajor).tickSize(-59).tickPadding(14).tickFormat(d3.format("d"))).call(axisStyle,3).selectAll("text").attr("dy",25);
svg.append("g").attr("transform",`translate(${R},0)`).call(d3.axisRight(y).tickValues(yMinor).tickSize(-30).tickFormat(none)).call(axisStyle,3);
svg.append("g").attr("transform",`translate(${R},0)`).call(d3.axisRight(y).tickValues(yMajor).tickSize(-59).tickFormat(none)).call(axisStyle,3);
svg.append("rect").attr("x",L).attr("y",T).attr("width",R-L).attr("height",B-T).attr("fill","none").attr("stroke","#000").attr("stroke-width",4);

// colour bar
const barL=2150,barR=2263;
const barY=d3.scaleLinear().domain([0,palette.length]).range([B,T]);
svg.append("g").attr("shape-rendering","crispEdges").selectAll("rect").data(palette).join("rect").attr("x",barL).attr("width",barR-barL).attr("y",(d,i)=>barY(i+1)).attr("height",(d,i)=>barY(i)-barY(i+1)).attr("fill",d=>d);
const cy=d3.scaleLog().domain([1,Math.pow(10,7.212)]).range([B,T]);
svg.append("g").attr("transform",`translate(${barR},0)`).call(d3.axisLeft(cy).tickValues(countMinor).tickSize(28).tickFormat(none)).call(axisStyle,3);
svg.append("g").attr("transform",`translate(${barR},0)`).call(d3.axisLeft(cy).tickValues(countMajor).tickSize(57).tickFormat(none)).call(axisStyle,3);
svg.append("line").attr("x1",barR).attr("x2",barR).attr("y1",T).attr("y2",B).attr("stroke","#111").attr("stroke-width",4);
countMajor.forEach((v,i)=>{const t=svg.append("text").attr("x",2293).attr("y",cy(v)+(i==0?22:i==1?25:31)).style("font-size","60px");
  if(i<2)t.text(v);else{t.append("tspan").text("10");t.append("tspan").attr("dy",-27).style("font-size","40px").text(i);}});

// titles
const title=svg.append("g").style("font-size","62px");
title.append("text").attr("x",812).attr("y",-8).text("Energy deposit");
title.append("text").attr("x",1284).attr("y",-8).text("(");
title.append("text").attr("x",1840).attr("y",-8).text(")");
svg.append("text").attr("x",2141).attr("y",1447).attr("text-anchor","end").style("font-size","60px").text("Edep [MIP]");
svg.append("text").attr("transform","translate(81,65) rotate(-90)").attr("text-anchor","end").style("font-size","59px").text("Time [ns]");
svg.append("text").attr("transform","translate(2446,66) rotate(-90)").attr("text-anchor","end").style("font-size","60px").text("# counts");
svg.append("rect").attr("x",0).attr("y",0).attr("width",1.6).attr("height",1457).attr("fill","#888");

// white label patches
[[264,96,986,102],[496,467,1250,99],[1305,1160,965,102]].forEach(r=>svg.append("rect").attr("x",r[0]).attr("y",r[1]).attr("width",r[2]).attr("height",r[3]).attr("fill","#fff"));

// rings
const line=d3.line().x(d=>x(d[0])).y(d=>y(d[1]));
const red="#e62a00";
function ring(pts,w=1.6){strandShift.forEach(s=>svg.append("path").attr("transform",`translate(${s[0]},${s[1]})`).attr("d",line.curve(d3.curveCatmullRomClosed.alpha(0.5))(pts)).attr("fill","none").attr("stroke",red).attr("stroke-width",w));}
function heavy(pts,w){svg.append("path").attr("d",line.curve(d3.curveCatmullRom.alpha(0.5))(pts)).attr("fill","none").attr("stroke",red).attr("stroke-width",w);}
ring(ringA);ring(ringB);ring(ringC,1.8);
heavy(ringALeftThin,3);heavy(ringALeftMid,5);heavy(ringALeftWide,7);heavy(ringALeft,10);
heavy(ringARightThin,3);heavy(ringARight,7);
heavy(ringBRightThin,3);heavy(ringBRight,7);heavy(ringBLeftThin,3);heavy(ringBLeft,7);heavy(ringBBase,11);
heavy(ringCLower,11);heavy(ringCUpper,8);heavy(ringCFray,4);

// notes
const note=(xp,yp,fs,ls)=>svg.append("text").attr("class","note").attr("x",xp).attr("y",yp).style("font-size",fs+"px").style("letter-spacing",ls+"px");
note(288,171,65,-0.15).text("low energy neutrons and photons");
const n2=note(520,538,65,-0.6);
n2.append("tspan").text("e");n2.append("tspan").attr("dy",-24).style("font-size","42px").text("+");n2.append("tspan").attr("dy",24).text(", e");n2.append("tspan").attr("dy",-24).style("font-size","42px").text("-");n2.append("tspan").attr("dy",24).text(", p : high energy photons and neutrons");
const n3=note(1324,1235,65,-0.35);
n3.append("tspan").text("charged particles (hadrons, e");n3.append("tspan").attr("dy",-24).style("font-size","42px").text("+");n3.append("tspan").attr("dy",24).text(", e");n3.append("tspan").attr("dy",-24).style("font-size","42px").text("-");n3.append("tspan").attr("dy",24).text(")");
</script></body></html>
